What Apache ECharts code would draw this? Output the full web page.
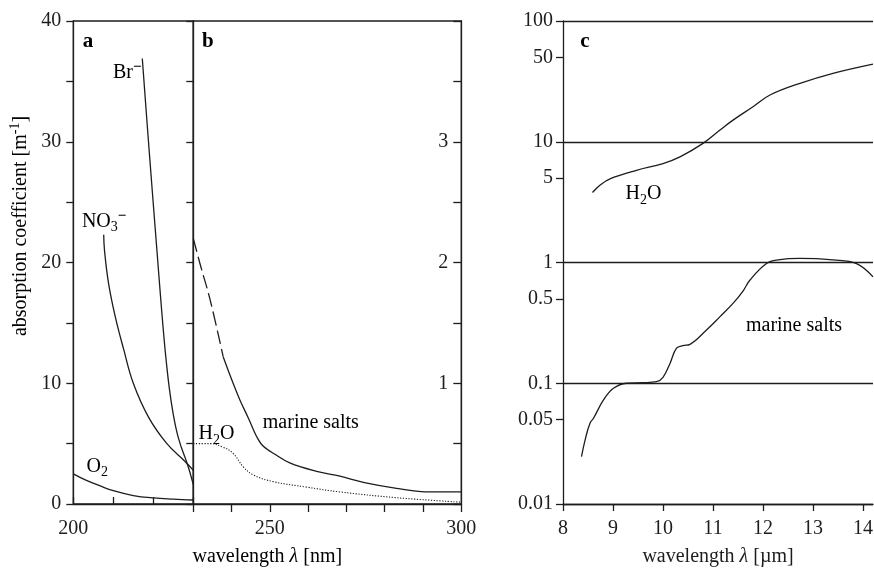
<!DOCTYPE html>
<html>
<head>
<meta charset="utf-8">
<script src="https://cdn.jsdelivr.net/npm/echarts@6/dist/echarts.min.js"></script>
<style>
  html, body { margin: 0; padding: 0; background: #fff; }
  #chart { width: 874px; height: 568px; }
</style>
</head>
<body>
<div id="chart"></div>
<script>
// ---- Panel a: 200–230 nm, absorption coefficient in m^-1 ----
const bromide = [[217.25, 36.9], [218.5, 31.3], [219.75, 25.9], [221, 20.6], [222, 16.4], [223, 12.6],
                 [224, 9.6], [225, 7.4], [226, 5.8], [227, 4.7], [228, 3.8], [229, 2.8], [230, 1.6]];
const nitrate = [[207.6, 22.3], [207.8, 21.0], [208.8, 18.3], [210.5, 15.5], [212.6, 12.8], [215, 10.0],
                 [218.8, 7.2], [223.4, 5.0], [228, 3.5], [230, 2.8]];
const oxygen = [[200, 2.5], [203, 2.0], [206.7, 1.5], [210, 1.1], [215, 0.7], [220, 0.5], [225, 0.4], [230, 0.33]];

// ---- Panel b: 230–300 nm ----
const saltsUvExtrapolated = [[230, 2.2], [231.75, 1.99], [234.4, 1.69], [237.8, 1.22]];
const saltsUv = [[237.8, 1.22], [240.4, 1.0], [242.2, 0.86], [244.4, 0.71], [245.5, 0.63], [246.6, 0.555],
                 [247.8, 0.495], [249.2, 0.455], [250.9, 0.42], [255.2, 0.34], [262.2, 0.27], [268.3, 0.23],
                 [274.4, 0.18], [283.1, 0.13], [291.8, 0.10], [300, 0.10]];
const waterUv = [[230, 0.5], [234.4, 0.5], [237.8, 0.47], [240.4, 0.42], [243, 0.31], [245.7, 0.24],
                 [250.9, 0.185], [259.6, 0.14], [268.3, 0.10], [283.1, 0.052], [300, 0.015]];

// ---- Panel c: 8–14 µm, logarithmic ----
const waterIr = [[8.59, 3.8], [8.75, 4.4], [8.95, 4.95], [9.47, 5.8], [10.0, 6.6], [10.34, 7.5], [10.8, 9.7],
                 [11.14, 12.5], [11.4, 15.1], [11.8, 19.5], [12.14, 24.4], [12.74, 30.5], [13.4, 36.9], [14.2, 44]];
const saltsIr = [[8.37, 0.0247], [8.45, 0.035], [8.54, 0.0467], [8.61, 0.0513], [8.81, 0.0727], [9.01, 0.0908],
                 [9.27, 0.1], [9.6, 0.101], [9.87, 0.103], [10.0, 0.112], [10.14, 0.146], [10.27, 0.195],
                 [10.4, 0.205], [10.54, 0.21], [10.87, 0.276], [11.14, 0.356], [11.4, 0.459], [11.6, 0.58],
                 [11.74, 0.716], [12.07, 0.98], [12.3, 1.05], [12.74, 1.08], [13.4, 1.05], [13.87, 0.98],
                 [14.2, 0.76]];

// ---- Tick labels ----
const yTicksA = [0, 10, 20, 30, 40];
const yTicksB = [1, 2, 3];
const xTicksA = [200];
const xTicksB = [250, 300];
const xTicksC = [8, 9, 10, 11, 12, 13, 14];
const yTicksC = [0.01, 0.05, 0.1, 0.5, 1, 5, 10, 50, 100];

const INK = '#1d1d1d';
const FONT = '"Liberation Serif", "Times New Roman", serif';
const LW = 1.3;
const TICK = 7;

const axisLine = { show: true, onZero: false, lineStyle: { color: INK, width: LW } };
const tickStyle = { color: INK, width: LW };
const label = { color: INK, fontFamily: FONT, fontSize: 20 };

const rich = {
  n:   { fontFamily: FONT, fontSize: 20, lineHeight: 26, color: INK, verticalAlign: 'middle' },
  it:  { fontFamily: FONT, fontSize: 20, lineHeight: 26, color: INK, verticalAlign: 'middle', fontStyle: 'italic' },
  sub: { fontFamily: FONT, fontSize: 14, lineHeight: 14, color: INK, verticalAlign: 'bottom' },
  sup: { fontFamily: FONT, fontSize: 14, lineHeight: 14, color: INK, verticalAlign: 'top' },
  ion: { fontFamily: FONT, fontSize: 15, lineHeight: 6, color: INK, verticalAlign: 'top', fontWeight: 'bold' },
  b:   { fontFamily: FONT, fontSize: 21, lineHeight: 26, color: INK, verticalAlign: 'middle', fontWeight: 'bold' }
};

function curve(data, xi, yi, extra) {
  return {
    type: 'line', data: data, xAxisIndex: xi, yAxisIndex: yi,
    symbol: 'none', showSymbol: false, smooth: 0.4, silent: true,
    lineStyle: Object.assign({ color: INK, width: LW }, extra || {})
  };
}

const chart = echarts.init(document.getElementById('chart'), null, { renderer: 'canvas' });

chart.setOption({
  animation: false,
  backgroundColor: '#fff',
  grid: [
    { left: 73.3, top: 21, width: 120, height: 483, outerBoundsMode: 'none',
      show: true, borderColor: INK, borderWidth: LW },
    { left: 193.3, top: 21, width: 268, height: 483, outerBoundsMode: 'none',
      show: true, borderColor: INK, borderWidth: LW },
    { left: 563, top: 21, width: 310, height: 483, outerBoundsMode: 'none' }
  ],
  xAxis: [
    { gridIndex: 0, type: 'value', min: 200, max: 230, interval: 10, axisLine: axisLine,
      axisTick: { inside: true, length: TICK, lineStyle: tickStyle },
      axisLabel: Object.assign({ customValues: xTicksA, margin: 15 }, label),
      splitLine: { show: false } },
    { gridIndex: 1, type: 'value', min: 230, max: 300, interval: 10, axisLine: axisLine,
      axisTick: { length: TICK + 1, lineStyle: tickStyle },
      axisLabel: Object.assign({ customValues: xTicksB, margin: 15 }, label),
      splitLine: { show: false } },
    { gridIndex: 2, type: 'value', min: 8, max: 14.2, axisLine: axisLine,
      axisTick: { customValues: xTicksC, length: TICK, lineStyle: tickStyle },
      axisLabel: Object.assign({ customValues: xTicksC, margin: 15 }, label),
      splitLine: { show: false },
      name: '{n|wavelength }{it|λ}{n| [µm]}', nameLocation: 'middle', nameGap: 40,
      nameTextStyle: { rich: rich } }
  ],
  yAxis: [
    { gridIndex: 0, type: 'value', position: 'left', min: 0, max: 40, interval: 5, axisLine: axisLine,
      axisTick: { length: TICK, lineStyle: tickStyle },
      axisLabel: Object.assign({ customValues: yTicksA, margin: 12 }, label),
      splitLine: { show: false } },
    { gridIndex: 0, type: 'value', position: 'right', min: 0, max: 40, interval: 5, axisLine: axisLine,
      axisTick: { inside: true, length: TICK, lineStyle: tickStyle },
      axisLabel: { show: false }, splitLine: { show: false } },
    { gridIndex: 1, type: 'value', position: 'right', min: 0, max: 4, interval: 0.5, axisLine: axisLine,
      axisTick: { inside: true, length: TICK + 1, lineStyle: tickStyle },
      axisLabel: Object.assign({ customValues: yTicksB, inside: true, margin: 13 }, label),
      splitLine: { show: false } },
    { gridIndex: 2, type: 'log', logBase: 10, position: 'left', min: 0.01, max: 100, axisLine: axisLine,
      axisTick: { show: false }, axisLabel: { show: false },
      splitLine: { show: true, lineStyle: { color: INK, width: LW } } },
    // tick marks and labels of the logarithmic axis, placed at log10 of each labelled value
    { gridIndex: 2, type: 'value', position: 'left', min: -2, max: 2,
      axisLine: { show: false, onZero: false },
      axisTick: { customValues: yTicksC.map(Math.log10), length: TICK, lineStyle: tickStyle },
      axisLabel: Object.assign({
        customValues: yTicksC.map(Math.log10), margin: 10,
        formatter: v => String(parseFloat(Math.pow(10, v).toPrecision(3)))
      }, label),
      splitLine: { show: false } }
  ],
  series: [
    curve(bromide, 0, 0),
    curve(nitrate, 0, 0),
    curve(oxygen, 0, 0),
    curve(saltsUvExtrapolated, 1, 2, { type: [14, 5] }),
    curve(saltsUv, 1, 2),
    curve(waterUv, 1, 2, { type: [1.2, 1.6], width: 1.1 }),
    curve(waterIr, 2, 3),
    curve(saltsIr, 2, 3)
  ]
});

// Annotations, anchored in data coordinates of their panel
const notes = [
  { f: { xAxisIndex: 0, yAxisIndex: 0 }, at: [203.7, 38.3], text: '{b|a}' },
  { f: { xAxisIndex: 1, yAxisIndex: 2 }, at: [233.8, 3.83], text: '{b|b}' },
  { f: { xAxisIndex: 2, yAxisIndex: 3 }, at: [8.44, 67], text: '{b|c}' },
  { f: { xAxisIndex: 0, yAxisIndex: 0 }, at: [213.5, 35.7], text: '{n|Br}{ion|−}' },
  { f: { xAxisIndex: 0, yAxisIndex: 0 }, at: [207.7, 23.4], text: '{n|NO}{sub|3}{ion|−}' },
  { f: { xAxisIndex: 0, yAxisIndex: 0 }, at: [206.0, 3.1], text: '{n|O}{sub|2}' },
  { f: { xAxisIndex: 1, yAxisIndex: 2 }, at: [236.05, 0.58], text: '{n|H}{sub|2}{n|O}' },
  { f: { xAxisIndex: 1, yAxisIndex: 2 }, at: [260.7, 0.67], text: '{n|marine salts}' },
  { f: { xAxisIndex: 2, yAxisIndex: 3 }, at: [9.61, 3.7], text: '{n|H}{sub|2}{n|O}' },
  { f: { xAxisIndex: 2, yAxisIndex: 3 }, at: [12.62, 0.30], text: '{n|marine salts}' }
];

const graphics = notes.map(n => {
  const p = chart.convertToPixel(n.f, n.at);
  return { type: 'text', x: p[0], y: p[1], silent: true,
           style: { text: n.text, rich: rich, align: 'center', verticalAlign: 'middle' } };
});

// Shared wavelength title under panels a and b
const left = chart.convertToPixel({ xAxisIndex: 0, yAxisIndex: 0 }, [200, 0]);
const right = chart.convertToPixel({ xAxisIndex: 1, yAxisIndex: 2 }, [300, 0]);
graphics.push({ type: 'text', x: (left[0] + right[0]) / 2, y: left[1] + 53, silent: true,
  style: { text: '{n|wavelength }{it|λ}{n| [nm]}', rich: rich, align: 'center', verticalAlign: 'middle' } });

// Vertical title of the absorption scale
graphics.push({ type: 'text', x: 21, y: 226, rotation: Math.PI / 2, silent: true,
  style: { text: '{n|absorption coefficient [m}{sup|-1}{n|]}', rich: rich, align: 'center', verticalAlign: 'middle' } });

chart.setOption({ graphic: graphics });
</script>
</body>
</html>
